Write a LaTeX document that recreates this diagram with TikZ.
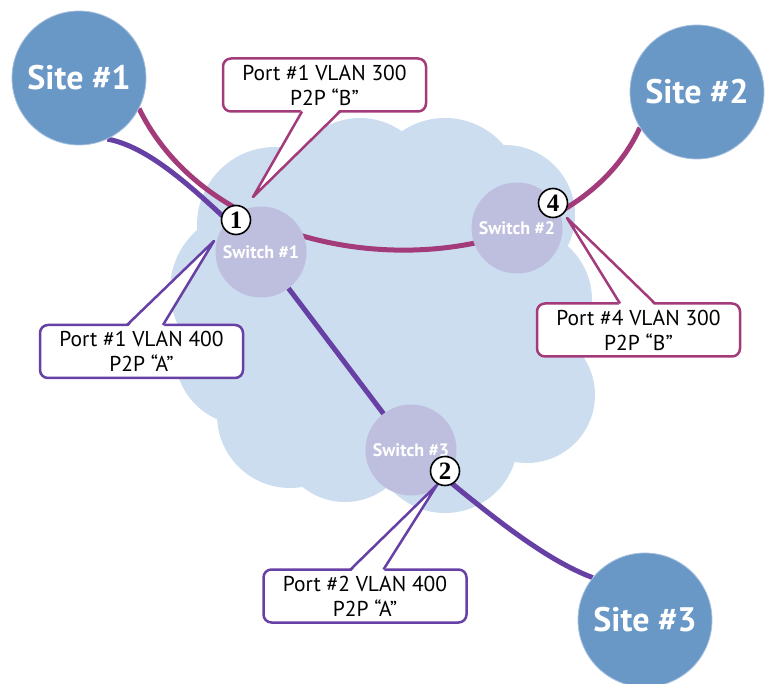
\documentclass[tikz,border=0pt]{standalone}
\usepackage{fontspec}
\setmainfont{PT Sans}
\newfontfamily\digfont{Liberation Serif}
\usetikzlibrary{calc}
\pgfdeclarelayer{cloudlayer}
\pgfdeclarelayer{linelayer}
\pgfsetlayers{cloudlayer,linelayer,main}
\definecolor{sitec}{HTML}{6A98C6}
\definecolor{cloudc}{HTML}{CCDDEF}
\definecolor{switchc}{HTML}{BEBEDE}
\definecolor{magc}{HTML}{A33A7A}
\definecolor{purc}{HTML}{6640A4}
\begin{document}
\begin{tikzpicture}[x=1pt,y=-1pt,
  site/.style={circle,fill=sitec,draw=sitec!60!white,line width=0.8pt,minimum size=134pt,inner sep=0pt,text=white,font=\fontsize{34}{34}\selectfont\bfseries},
  switchn/.style={circle,fill=switchc,minimum size=91pt,inner sep=0pt,text=white,font=\fontsize{18}{18}\selectfont\bfseries},
  magline/.style={draw=magc,line width=5pt},
  purline/.style={draw=purc,line width=5pt},
  callout/.style={rectangle,rounded corners=8pt,fill=white,line width=2.5pt,minimum width=203pt,minimum height=53pt,inner sep=0pt,outer sep=0pt,align=center,font=\fontsize{21.5}{25}\selectfont},
  boxB/.style={callout,draw=magc},
  boxA/.style={callout,draw=purc},
  pointer/.style={line width=2.5pt,line join=round},
  badge/.style={circle,draw=black,line width=1.6pt,fill=white,minimum size=29pt,inner sep=0pt,font=\digfont\bfseries\fontsize{25}{25}\selectfont}
]
\useasboundingbox (0,0) rectangle (771,684);

% cloud
\begin{pgfonlayer}{cloudlayer}
\fill[cloudc]
  (275,225) circle[radius=78]
  (360,190) circle[radius=72]
  (445,195) circle[radius=77]
  (505,215) circle[radius=70]
  (520,300) circle[radius=72]
  (527,395) circle[radius=68]
  (445,440) circle[radius=73]
  (345,435) circle[radius=67]
  (290,415) circle[radius=73]
  (245,355) circle[radius=70]
  (250,290) circle[radius=80]
  (380,320) circle[radius=120];
\end{pgfonlayer}

% sites and switches
\node[switchn] (sw1) at (261,252) {Switch \#1};
\node[switchn] (sw2) at (517,228) {Switch \#2};
\node[switchn] (sw3) at (411,450) {Switch \#3};
\node[site] (site1) at (79,78) {Site \#1};
\node[site] (site2) at (697,92) {Site \#2};
\node[site] (site3) at (645,620) {Site \#3};

% connectors
\begin{pgfonlayer}{linelayer}
\draw[magline] (site1.-27) .. controls (230,294) and (564,294) .. (site2.212);
\draw[purline] (site1.-65) .. controls (155,148) and (205,200) .. (sw1.center)
  -- (sw3.center) .. controls (468,496) and (535,556) .. (site3.141);
\end{pgfonlayer}

% callouts
\node[boxB] (lb1) at (324.5,85) {Port \#1 VLAN 300\\P2P “B”};
\node[boxB] (lb4) at (638.5,330) {Port \#4 VLAN 300\\P2P “B”};
\node[boxA] (la1) at (141.5,351.5) {Port \#1 VLAN 400\\P2P “A”};
\node[boxA] (la2) at (365,596) {Port \#2 VLAN 400\\P2P “A”};

\coordinate (tip1) at (253,197);
\coordinate (tip4) at (567,218);
\coordinate (tipa1) at (214,241);
\coordinate (tipa2) at (437,485);

% pointer of lb1 (bottom edge)
\fill[white] ([xshift=79pt,yshift=2.5pt]lb1.south west) -- (tip1) -- ([xshift=117pt,yshift=2.5pt]lb1.south west) -- cycle;
\draw[pointer,magc] ([xshift=79pt]lb1.south west) -- (tip1) -- ([xshift=117pt]lb1.south west);
% pointer of lb4 (top edge)
\fill[white] ([xshift=83pt,yshift=-2.5pt]lb4.north west) -- (tip4) -- ([xshift=118pt,yshift=-2.5pt]lb4.north west) -- cycle;
\draw[pointer,magc] ([xshift=83pt]lb4.north west) -- (tip4) -- ([xshift=118pt]lb4.north west);
% pointer of la1 (top edge)
\fill[white] ([xshift=87pt,yshift=-2.5pt]la1.north west) -- (tipa1) -- ([xshift=123pt,yshift=-2.5pt]la1.north west) -- cycle;
\draw[pointer,purc] ([xshift=87pt]la1.north west) -- (tipa1) -- ([xshift=123pt]la1.north west);
% pointer of la2 (top edge)
\fill[white] ([xshift=87pt,yshift=-2.5pt]la2.north west) -- (tipa2) -- ([xshift=120pt,yshift=-2.5pt]la2.north west) -- cycle;
\draw[pointer,purc] ([xshift=87pt]la2.north west) -- (tipa2) -- ([xshift=120pt]la2.north west);

% port badges
\node[badge] (p1) at (236,220) {1};
\node[badge] (p4) at (553,203) {4};
\node[badge] (p2) at (445,471) {2};
\end{tikzpicture}
\end{document}
